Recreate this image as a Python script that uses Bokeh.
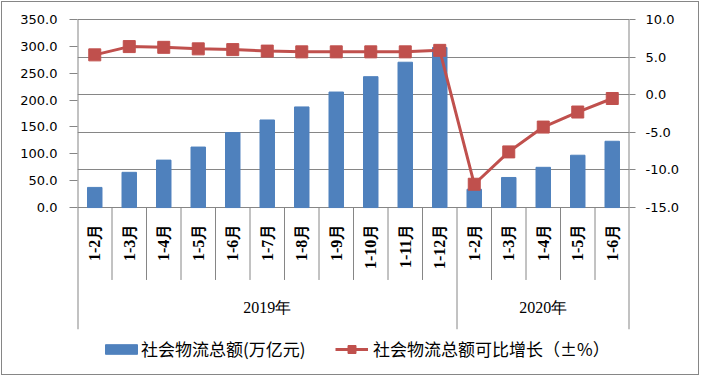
import math
from bokeh.plotting import figure
from bokeh.models import (FactorRange, Range1d, LinearAxis, FixedTicker, NumeralTickFormatter,
                          Grid, Legend, LegendItem)
from bokeh.embed import file_html
from bokeh.resources import INLINE
from bokeh.core.properties import value

# ---------------- data ----------------
years = ["2019年", "2020年"]
months_2019 = ["1-2月", "1-3月", "1-4月", "1-5月", "1-6月", "1-7月", "1-8月",
               "1-9月", "1-10月", "1-11月", "1-12月"]
months_2020 = ["1-2月", "1-3月", "1-4月", "1-5月", "1-6月"]
total_2019 = [37.5, 65.6, 88.3, 112.6, 139.5, 163.0, 187.3, 215.0, 243.6, 270.5, 298.0]
total_2020 = [34.1, 56.0, 74.9, 97.4, 123.4]
growth_2019 = [5.3, 6.4, 6.3, 6.1, 6.0, 5.8, 5.7, 5.7, 5.7, 5.7, 5.9]
growth_2020 = [-11.9, -7.6, -4.3, -2.3, -0.5]
left_ticks = [0, 50, 100, 150, 200, 250, 300, 350]
right_ticks = [-15, -10, -5, 0, 5, 10]
bar_name = "社会物流总额(万亿元)"
line_name = "社会物流总额可比增长（±%）"

# ---------------- styles / geometry (page pixels) ----------------
BAR = "#4F81BD"
RED = "#C0504D"
GRAY = "#868686"
TICK_FONT = "DejaVu Sans"
FIG_W, FIG_H = 696, 372          # inside a 1px border, page origin (2, 2)
ORIGIN = 2
FRAME_L, FRAME_R = 77, 627
FRAME_T, FRAME_B = 17, 374
PLOT_T, PLOT_B = 19, 206         # value-axis span
MONTH_SEP_B, YEAR_SEP_B = 278, 327
MONTH_LABEL_Y, YEAR_LABEL_Y = 222, 305

factors = [(years[0], m) for m in months_2019] + [(years[1], m) for m in months_2020]
totals = total_2019 + total_2020
growth = growth_2019 + growth_2020

xr = FactorRange(*factors, factor_padding=0, group_padding=0, subgroup_padding=0, range_padding=0)


def span_range(lo, hi):
    k = (PLOT_B - PLOT_T) / (hi - lo)
    return Range1d(lo - (FRAME_B - PLOT_B) / k, hi + (PLOT_T - FRAME_T) / k)


p = figure(width=FIG_W, height=FIG_H, x_range=xr,
           y_range=span_range(left_ticks[0], left_ticks[-1]),
           output_backend="svg", toolbar_location=None,
           x_axis_location=None, y_axis_location=None,
           min_border_left=FRAME_L - ORIGIN, min_border_right=ORIGIN + FIG_W - FRAME_R,
           min_border_top=FRAME_T - ORIGIN, min_border_bottom=0,
           styles={"margin-left": "1px", "margin-top": "1px",
                   "border": "1px solid #868686", "box-sizing": "content-box"})
p.grid.visible = False
p.outline_line_color = None
p.extra_y_ranges = {"right": span_range(right_ticks[0], right_ticks[-1]),
                    "px": Range1d(-FRAME_B, -FRAME_T)}

left_axis = LinearAxis(ticker=FixedTicker(ticks=left_ticks), formatter=NumeralTickFormatter(format="0.0"))
right_axis = LinearAxis(y_range_name="right", ticker=FixedTicker(ticks=right_ticks),
                        formatter=NumeralTickFormatter(format="0.0"))
for ax, tout, stand in ((left_axis, 8, 12), (right_axis, 6, 10)):
    ax.axis_line_color = None
    ax.major_tick_line_color = GRAY
    ax.minor_tick_line_color = None
    ax.major_tick_in = 0
    ax.major_tick_out = tout
    ax.major_label_standoff = stand
    ax.major_label_text_font = TICK_FONT
    ax.major_label_text_font_size = "13px"
    ax.major_label_text_color = "#000000"
p.add_layout(left_axis, "left")
p.add_layout(right_axis, "right")

grid = Grid(dimension=1, ticker=FixedTicker(ticks=right_ticks), y_range_name="right",
            grid_line_color=GRAY, grid_line_width=1)
p.add_layout(grid)

# category separators and axis lines
n = len(factors)
edges = [0, n]
mid = [len(months_2019)]
month_bounds = [b for b in range(n + 1) if b not in edges + mid]
p.segment(x0=edges, y0=-PLOT_T, x1=edges, y1=-YEAR_SEP_B, y_range_name="px",
          line_color=GRAY, line_width=2)
p.segment(x0=mid, y0=-PLOT_B, x1=mid, y1=-YEAR_SEP_B, y_range_name="px",
          line_color=GRAY, line_width=1)
p.segment(x0=month_bounds, y0=-PLOT_B, x1=month_bounds, y1=-MONTH_SEP_B, y_range_name="px",
          line_color=GRAY, line_width=1)

bars = p.vbar(x=factors, top=totals, width=0.42, color=BAR)
line = p.line(x=factors, y=growth, y_range_name="right", color=RED, line_width=3)
marks = p.scatter(x=factors, y=growth, y_range_name="right", marker="square", size=12,
                  color=RED)

p.text(x=factors, y=-MONTH_LABEL_Y, y_range_name="px", text=[m for _, m in factors],
       angle=math.pi / 2, text_align="right", text_baseline="middle",
       text_font=value("Liberation Serif"), text_font_size="16px", text_font_style="bold",
       text_color="#000000")
p.text(x=years, y=-YEAR_LABEL_Y, y_range_name="px", text=years,
       text_align="center", text_baseline="middle",
       text_font=value("Liberation Serif"), text_font_size="16px", text_color="#000000")

common = dict(padding=0, margin=0, border_line_color=None, background_fill_alpha=0,
              label_text_font="Noto Sans CJK SC", label_text_font_size="17px",
              label_text_color="#000000", orientation="horizontal")
leg1 = Legend(items=[LegendItem(label=bar_name, renderers=[bars])], location=(24, 15),
              glyph_width=40, glyph_height=12, label_standoff=0, **common)
leg2 = Legend(items=[LegendItem(label=line_name, renderers=[line, marks])], location=(258, 15),
              glyph_width=33, glyph_height=20, label_standoff=5, **common)
p.add_layout(leg1)
p.add_layout(leg2)

open("out.html", "w").write(file_html(p, INLINE))
